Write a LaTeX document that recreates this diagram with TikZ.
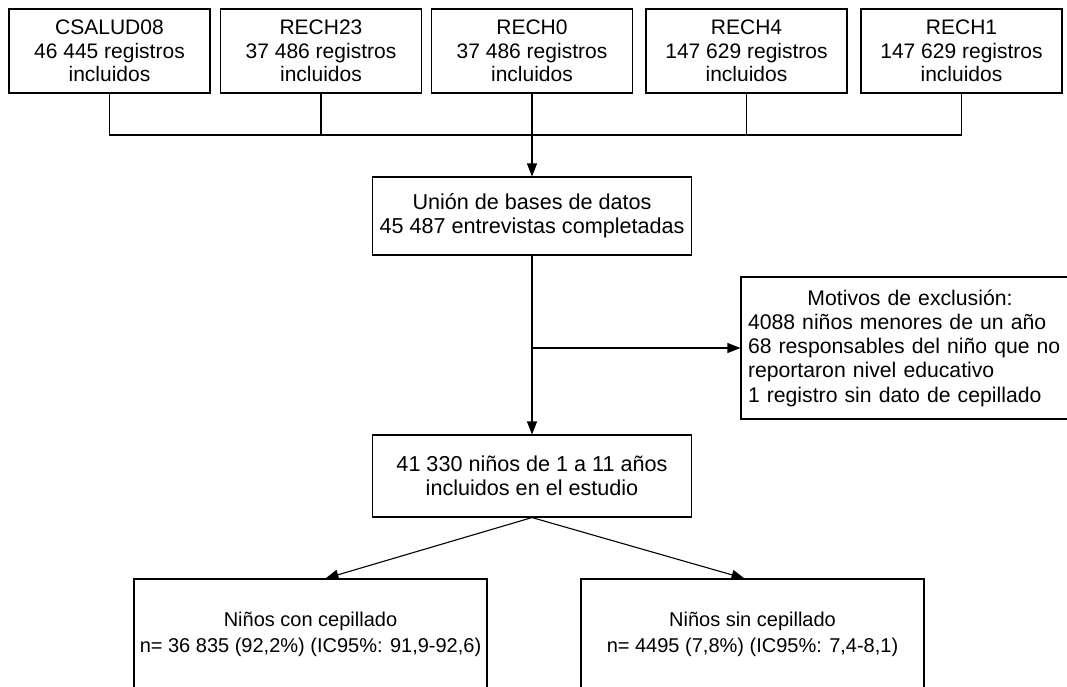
\documentclass[tikz,border=0pt]{standalone}
\usepackage{fontspec}
\setmainfont{Liberation Sans}
\usetikzlibrary{arrows.meta}

\begin{document}
\begin{tikzpicture}[x=1pt, y=-1pt,
    box/.style={draw, line width=1.1pt, align=center, inner sep=0pt,
      font=\fontsize{21.6}{24}\selectfont},
    fuente/.style={box, minimum width=201pt, minimum height=84pt,
      font=\fontsize{21}{23.6}\selectfont},
    grupo/.style={box, minimum height=110pt, font=\fontsize{20}{26}\selectfont},
    arr/.style={-{Triangle[length=13pt,width=10pt]}, line width=1.1pt}]
  \useasboundingbox (0,0) rectangle (1067,686);
  \clip (0,0) rectangle (1067,686);
  % bases de datos
  \node [fuente] (csalud08) at (109.5,51) {CSALUD08\\46 445 registros\\incluidos};
  \node [fuente] (rech23) at (321,51) {RECH23\\37 486 registros\\incluidos};
  \node [fuente] (rech0) at (532,51) {RECH0\\37 486 registros\\incluidos};
  \node [fuente] (rech4) at (746.5,51) {RECH4\\147 629 registros\\incluidos};
  \node [fuente] (rech1) at (961.5,51) {RECH1\\147 629 registros\\incluidos};
  \node [box, minimum width=319pt, minimum height=78pt] (union) at (532,216)
    {Unión de bases de datos\\45 487 entrevistas completadas};
  \node [box, align=left, text width=324pt, inner xsep=7pt, minimum height=142pt,
    font=\fontsize{21.2}{24.2}\selectfont] (excl) at (910,348)
    {\hfill Motivos de exclusión:\hfill\null\\4088 niños menores de un año\\68 responsables del niño que no\\reportaron nivel educativo\\1 registro sin dato de cepillado};
  \node [box, minimum width=319pt, minimum height=82pt] (ninos) at (532,476)
    {41 330 niños de 1 a 11 años\\incluidos en el estudio};
  \node [grupo, minimum width=353pt] (con) at (310.5,634)
    {Niños con cepillado\\n= 36 835 (92,2\%) (IC95\%: 91,9-92,6)};
  \node [grupo, minimum width=343pt] (sin) at (752.5,634)
    {Niños sin cepillado\\n= 4495 (7,8\%) (IC95\%: 7,4-8,1)};
  % conectores
  \coordinate (bus) at (532,135);
  \draw [line width=1.1pt] (csalud08.south) |- (bus) -| (rech1.south);
  \draw [line width=1.1pt] (rech23.south) -- (rech23.south |- bus);
  \draw [line width=1.1pt] (rech4.south) -- (rech4.south |- bus);
  \draw [arr] (rech0.south) -- (union.north);
  \draw [arr] (union.south) -- (ninos.north);
  \draw [arr] (union.south |- excl.west) -- (excl.west);
  \draw [arr] (ninos.south) -- ([xshift=15pt]con.north);
  \draw [arr] (ninos.south) -- ([xshift=-8pt]sin.north);
\end{tikzpicture}
\end{document}
